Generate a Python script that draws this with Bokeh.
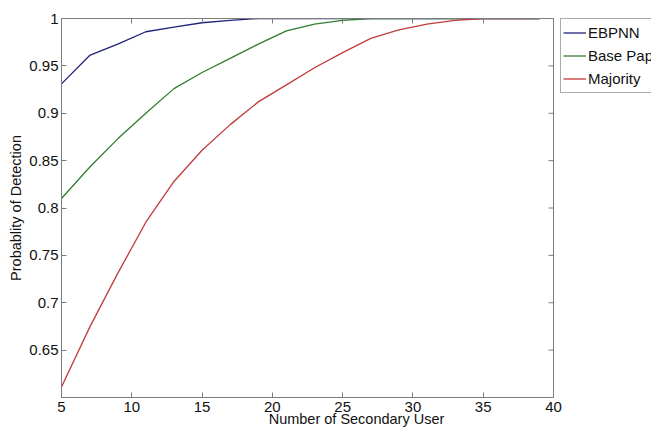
import math
from bokeh.plotting import figure
from bokeh.models import (Range1d, FixedTicker, Legend, LegendItem, LinearAxis,
                          CustomJSTickFormatter)
from bokeh.embed import file_html
from bokeh.resources import INLINE

# ---- data ----
users = [5, 7, 9, 11, 13, 15, 17, 19, 21, 23, 25, 27, 29, 31, 33, 35, 37, 39]
ebpnn = [0.931, 0.961, 0.973, 0.986, 0.991, 0.9955, 0.998, 1.0, 1.0, 1.0,
         1.0, 1.0, 1.0, 1.0, 1.0, 1.0, 1.0, 1.0]
base_paper = [0.810, 0.843, 0.873, 0.900, 0.926, 0.943, 0.958, 0.973, 0.987,
              0.994, 0.998, 1.0, 1.0, 1.0, 1.0, 1.0, 1.0, 1.0]
majority = [0.611, 0.674, 0.731, 0.785, 0.828, 0.861, 0.888, 0.912, 0.930,
            0.948, 0.964, 0.979, 0.988, 0.994, 0.998, 1.0, 1.0, 1.0]
series_names = ["EBPNN", "Base Paper", "Majority"]
x_ticks = [5, 10, 15, 20, 25, 30, 35, 40]
y_ticks = [0.65, 0.7, 0.75, 0.8, 0.85, 0.9, 0.95, 1]
x_lim = (5, 40)
y_lim = (0.6, 1.0)

FONT = "Liberation Sans"
AXIS_COL = "#7c7c7c"

W, H = 651, 429
LEFT, TOP, BOTTOM = 61, 18, 32
AXES_RIGHT_PX = 553          # right edge of the axes box
# extend the frame to the canvas edge so the legend can sit outside the axes box
x_end = x_lim[0] + (x_lim[1] - x_lim[0]) * (W - LEFT) / (AXES_RIGHT_PX - LEFT)

p = figure(width=W, height=H, output_backend="svg", toolbar_location=None,
           x_range=Range1d(x_lim[0], x_end), y_range=Range1d(*y_lim),
           min_border_left=LEFT, min_border_right=0, min_border_top=TOP,
           min_border_bottom=BOTTOM)
p.outline_line_color = None
p.grid.visible = False
p.background_fill_color = "white"
p.border_fill_color = "white"

fmt = CustomJSTickFormatter(code="return String(Math.round(tick*100)/100);")

def style(ax, labels=True):
    ax.axis_line_color = AXIS_COL
    ax.major_tick_line_color = AXIS_COL
    ax.major_tick_in = 5
    ax.major_tick_out = 0
    ax.minor_tick_line_color = None
    ax.major_label_text_font = FONT
    ax.major_label_text_color = "#111111"
    ax.axis_label_text_font = FONT
    ax.axis_label_text_font_style = "normal"
    ax.axis_label_text_color = "#111111"
    ax.axis_label_text_font_size = "14.5px"
    if labels:
        ax.major_label_text_font_size = "15px"
    else:
        ax.major_label_text_font_size = "0px"
        ax.major_label_standoff = 0

xa = p.xaxis[0]
xa.ticker = FixedTicker(ticks=x_ticks)
xa.bounds = x_lim
style(xa)
xa.major_label_standoff = 4
xa.axis_label = "Number of Secondary User"
xa.axis_label_standoff = -4

ya = p.yaxis[0]
ya.ticker = FixedTicker(ticks=y_ticks)
ya.formatter = fmt
style(ya)
ya.major_label_standoff = 3
ya.axis_label = "Probablity of Detection"
ya.axis_label_standoff = 2

top = LinearAxis(ticker=FixedTicker(ticks=x_ticks), bounds=x_lim)
style(top, labels=False)
p.add_layout(top, "above")

# right side of the axes box (at x = 40) with inward ticks
p.line([x_lim[1], x_lim[1]], list(y_lim), line_color=AXIS_COL, line_width=1)
p.ray(x=[x_lim[1]] * len(y_ticks), y=y_ticks, length=5, length_units="screen",
      angle=math.pi, line_color=AXIS_COL, line_width=1)

colors = ["#22227c", "#2f7d2f", "#c23a3a"]
renderers = []
for vals, col in zip([ebpnn, base_paper, majority], colors):
    r = p.line(users, vals, line_color=col, line_width=1.3)
    renderers.append(r)

legend = Legend(items=[LegendItem(label=n, renderers=[r])
                       for n, r in zip(series_names, renderers)],
                location=(499, 304))
legend.border_line_color = "#555555"
legend.border_line_width = 1
legend.background_fill_color = "white"
legend.background_fill_alpha = 1
legend.label_text_font = FONT
legend.label_text_font_size = "15px"
legend.label_text_color = "#111111"
legend.label_height = 23
legend.glyph_height = 23
legend.glyph_width = 23
legend.label_standoff = 2
legend.spacing = 0
legend.padding = 2
legend.margin = 0
p.add_layout(legend, "center")

open("out.html", "w").write(file_html(p, INLINE))
